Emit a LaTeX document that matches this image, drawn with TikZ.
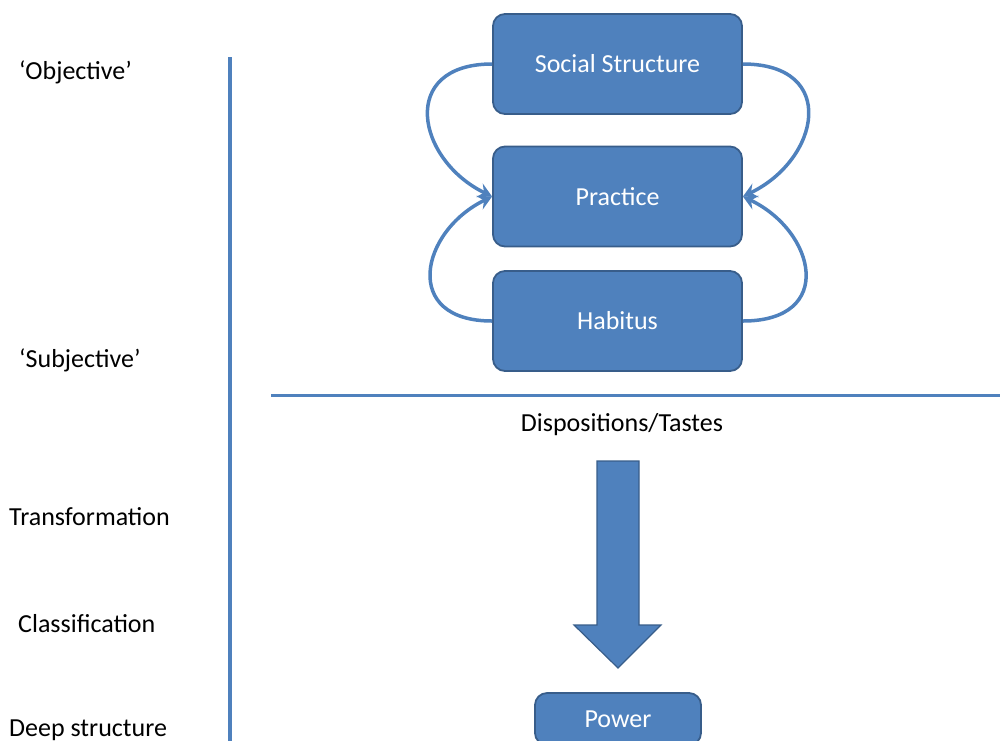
\documentclass[tikz,border=0pt]{standalone}
\usepackage{fontspec}
\setmainfont{Carlito}
\usepackage{xcolor}
\usetikzlibrary{arrows.meta, positioning, calc}

\definecolor{boxblue}{HTML}{4F81BD}
\definecolor{boxedge}{HTML}{385D8A}

\begin{document}
\begin{tikzpicture}[
  x=1pt, y=1pt,
  block/.style={rectangle, draw=boxedge, fill=boxblue, rounded corners=12pt,
    minimum width=249pt, minimum height=100pt, text=white,
    font=\fontsize{26}{31}\selectfont, line width=1.8pt, inner sep=0pt},
  side/.style={anchor=west, font=\fontsize{26}{31}\selectfont, inner sep=0pt},
  loop/.style={-{Stealth[length=14pt, width=15pt, inset=5pt]}, line width=3.5pt, draw=boxblue},
  rule/.style={line width=3.5pt, draw=boxblue}
]
\useasboundingbox (0,0) rectangle (1000,-740);

\node (social) [block] at (617.5,-64)    {Social Structure};
\node (prac)   [block] at (617.5,-196.5) {Practice};
\node (hab)    [block] at (617.5,-321)   {Habitus};
\node (power)  [block, minimum width=166pt, minimum height=52pt] at (618,-719) {Power};

\node (disp) [font=\fontsize{26}{31}\selectfont, inner sep=0pt] at (622,-425) {Dispositions/Tastes};

% left-hand labels
\node (obj)   [side] at (19,-72)  {`Objective'};
\node (subj)  [side] at (19,-360) {`Subjective'};
\node (trans) [side] at (9,-517)  {Transformation};
\node (class) [side] at (18,-624) {Classification};
\node (deep)  [side] at (9,-730)  {Deep structure};

% loops into Practice
\draw[loop] (social.west) .. controls +(-94,0) and +(-76,37) .. (prac.west);
\draw[loop] (hab.west)    .. controls +(-91,0) and +(-72,-35) .. (prac.west);
\draw[loop] (social.east) .. controls +(96,0) and +(77,37) .. (prac.east);
\draw[loop] (hab.east)    .. controls +(93,0) and +(73,-35) .. (prac.east);

% rules
\coordinate (vtop) at (230,-57);
\coordinate (vbot) at (230,-745);
\draw[rule] (vtop) -- (vbot);
\coordinate (hleft)  at (271,-395);
\coordinate (hright) at (1002,-395);
\draw[rule, line width=3pt] (hleft) -- (hright);

% big arrow
\draw[draw=boxedge, fill=boxblue, line width=1.2pt]
  (597,-461) -- (639,-461) -- (639,-625) -- (661,-625) -- (618,-668)
  -- (574,-625) -- (597,-625) -- cycle;

\end{tikzpicture}
\end{document}
